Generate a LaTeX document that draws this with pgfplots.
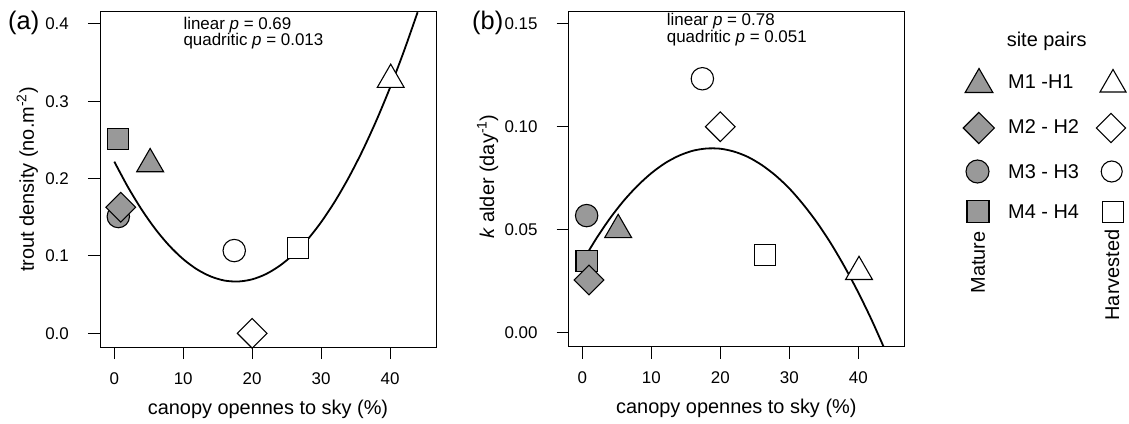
\documentclass[border=0pt]{standalone}
\usepackage{fontspec}
\setmainfont{Liberation Sans}
\usepackage{pgfplots}
\pgfplotsset{compat=1.18}
\definecolor{mgray}{HTML}{999999}
\newcommand{\tickfont}{\fontsize{17}{20}\selectfont}
\newcommand{\labfont}{\fontsize{20}{24}\selectfont}
\newcommand{\panfont}{\fontsize{25.5}{30}\selectfont}
\tikzset{
  mfill/.style={draw=black, fill=mgray, line width=1.1bp},
  hfill/.style={draw=black, fill=white, line width=1.1bp},
}
\pgfplotsset{
  panel/.style={
    scale only axis,
    anchor=south west,
    axis line style={line width=1bp},
    every tick/.style={black, line width=1bp},
    major tick length=12bp,
    tick align=outside,
    tick pos=left,
    /pgf/number format/assume math mode=true,
    xtick={0,10,20,30,40},
    xticklabel style={font=\tickfont, inner sep=0pt, anchor=north, yshift=-13bp},
    yticklabel style={font=\tickfont, inner sep=0pt, anchor=east, xshift=-19bp},
    xlabel style={font=\labfont, inner sep=0pt, anchor=center},
    ylabel style={font=\labfont, inner sep=0pt, anchor=center},
    xlabel={canopy opennes to sky (\%)},
  },
}
\begin{document}
\begin{tikzpicture}
\useasboundingbox (0,0) rectangle (1129bp,424bp);
% ---------------- panel (a)
\begin{axis}[panel,
  at={(100bp,77bp)}, width=336bp, height=335bp,
  xmin=-2.075, xmax=46.67, ymin=-0.0177, ymax=0.4155,
  ytick={0,0.1,0.2,0.3,0.4},
  yticklabel style={/pgf/number format/.cd, fixed, fixed zerofill, precision=1},
  ylabel={trout density (no.m\textsuperscript{-2})},
  xlabel style={at={(axis description cs:0.5,-0.185)}},
  ylabel style={at={(axis description cs:-0.216,0.5)}},
]
\addplot[only marks, mark=*, mark size=11.2bp, mark options={mfill}] coordinates {(0.58,0.151)};
\addplot[only marks, mark=square*, mark size=10.6bp, mark options={mfill}] coordinates {(0.54,0.251)};
\addplot[only marks, mark=triangle*, mark size=15.5bp, mark options={mfill}] coordinates {(5.2,0.219)};
\addplot[only marks, mark=square*, mark size=10.5bp, mark options={mfill, rotate=45}] coordinates {(0.93,0.163)};
\addplot[only marks, mark=*, mark size=11.2bp, mark options={hfill}] coordinates {(17.4,0.107)};
\addplot[only marks, mark=square*, mark size=10.6bp, mark options={hfill}] coordinates {(26.6,0.110)};
\addplot[only marks, mark=triangle*, mark size=15.5bp, mark options={hfill}] coordinates {(40.1,0.328)};
\addplot[only marks, mark=square*, mark size=10.5bp, mark options={hfill, rotate=45}] coordinates {(20.0,0.0)};
\addplot[black, line width=1.8bp, smooth, no marks] coordinates {
(0,0.2220) (2,0.1888) (4,0.1596) (6,0.1343) (8,0.1131) (10,0.0959) (12,0.0827)
(14,0.0735) (16,0.0682) (18,0.0670) (20,0.0698) (22,0.0766) (24,0.0874) (26,0.1021)
(28,0.1209) (30,0.1437) (32,0.1705) (34,0.2013) (36,0.2360) (38,0.2748) (40,0.3176)
(42,0.3644) (44,0.4152)};
\end{axis}
% ---------------- panel (b)
\begin{axis}[panel,
  at={(568.7bp,77.3bp)}, width=335.3bp, height=334.7bp,
  xmin=-1.97, xmax=46.62, ymin=-0.0068, ymax=0.15583,
  ytick={0,0.05,0.1,0.15},
  yticklabel style={/pgf/number format/.cd, fixed, fixed zerofill, precision=2},
  ylabel={\textit{k} alder (day\textsuperscript{-1})},
  xlabel style={at={(axis description cs:0.5,-0.185)}},
  ylabel style={at={(axis description cs:-0.242,0.508)}},
]
\addplot[only marks, mark=*, mark size=11.2bp, mark options={mfill}] coordinates {(0.63,0.0569)};
\addplot[only marks, mark=square*, mark size=10.6bp, mark options={mfill}] coordinates {(0.63,0.035)};
\addplot[only marks, mark=triangle*, mark size=15.5bp, mark options={mfill}] coordinates {(5.2,0.050)};
\addplot[only marks, mark=square*, mark size=10.5bp, mark options={mfill, rotate=45}] coordinates {(0.97,0.0256)};
\addplot[only marks, mark=*, mark size=11.2bp, mark options={hfill}] coordinates {(17.4,0.1234)};
\addplot[only marks, mark=square*, mark size=10.6bp, mark options={hfill}] coordinates {(26.5,0.0376)};
\addplot[only marks, mark=triangle*, mark size=15.5bp, mark options={hfill}] coordinates {(40.1,0.0296)};
\addplot[only marks, mark=square*, mark size=10.5bp, mark options={hfill, rotate=45}] coordinates {(20.0,0.1001)};
\addplot[black, line width=1.8bp, smooth, no marks] coordinates {
(0,0.0345) (2,0.0456) (4,0.0555) (6,0.0641) (8,0.0714) (10,0.0775) (12,0.0824)
(14,0.0860) (16,0.0884) (18,0.0895) (20,0.0894) (22,0.0880) (24,0.0854) (26,0.0815)
(28,0.0764) (30,0.0701) (32,0.0624) (34,0.0536) (36,0.0435) (38,0.0321) (40,0.0195)
(42,0.0057) (44,-0.0094)};
\end{axis}
% ---------------- overlay: panel letters, notes, legend (image coordinates)
\begin{axis}[at={(0bp,0bp)}, anchor=south west, scale only axis,
  width=1129bp, height=424bp, xmin=0, xmax=1129, ymin=0, ymax=424,
  y dir=reverse, hide axis, clip=false]
\node[anchor=base west, inner sep=0pt, font=\panfont] at (axis cs:8,29.2) {(a)};
\node[anchor=base west, inner sep=0pt, font=\panfont] at (axis cs:472,29.2) {(b)};
\node[anchor=base west, inner sep=0pt, font=\tickfont] at (axis cs:183.3,29.3) {linear \textit{p} = 0.69};
\node[anchor=base west, inner sep=0pt, font=\tickfont] at (axis cs:183.3,45.7) {quadritic \textit{p} = 0.013};
\node[anchor=base west, inner sep=0pt, font=\tickfont] at (axis cs:666.7,26) {linear \textit{p} = 0.78};
\node[anchor=base west, inner sep=0pt, font=\tickfont] at (axis cs:666.7,42.7) {quadritic \textit{p} = 0.051};
% legend
\node[anchor=base, inner sep=0pt, font=\labfont] at (axis cs:1046.7,46.7) {site pairs};
\node[anchor=base west, inner sep=0pt, font=\labfont] at (axis cs:1008,88.3) {M1 -H1};
\node[anchor=base west, inner sep=0pt, font=\labfont] at (axis cs:1008,134) {M2 - H2};
\node[anchor=base west, inner sep=0pt, font=\labfont] at (axis cs:1008,178.3) {M3 - H3};
\node[anchor=base west, inner sep=0pt, font=\labfont] at (axis cs:1008,218.3) {M4 - H4};
\node[anchor=center, inner sep=0pt, font=\labfont, rotate=90] at (axis cs:978,262.5) {Mature};
\node[anchor=center, inner sep=0pt, font=\labfont, rotate=90] at (axis cs:1112,275) {Harvested};
\addplot[only marks, mark=triangle*, mark size=16bp, mark options={mfill}] coordinates {(979,84.5)};
\addplot[only marks, mark=square*, mark size=11bp, mark options={mfill, rotate=45}] coordinates {(978.8,128)};
\addplot[only marks, mark=*, mark size=11.5bp, mark options={mfill}] coordinates {(977.5,171.5)};
\addplot[only marks, mark=square*, mark size=11bp, mark options={mfill}] coordinates {(978,211.8)};
\addplot[only marks, mark=triangle*, mark size=15bp, mark options={hfill}] coordinates {(1113,84.5)};
\addplot[only marks, mark=square*, mark size=10.3bp, mark options={hfill, rotate=45}] coordinates {(1111,128)};
\addplot[only marks, mark=*, mark size=10.5bp, mark options={hfill}] coordinates {(1111.7,171.5)};
\addplot[only marks, mark=square*, mark size=10.3bp, mark options={hfill}] coordinates {(1112.8,211.8)};
\end{axis}
\end{tikzpicture}
\end{document}
